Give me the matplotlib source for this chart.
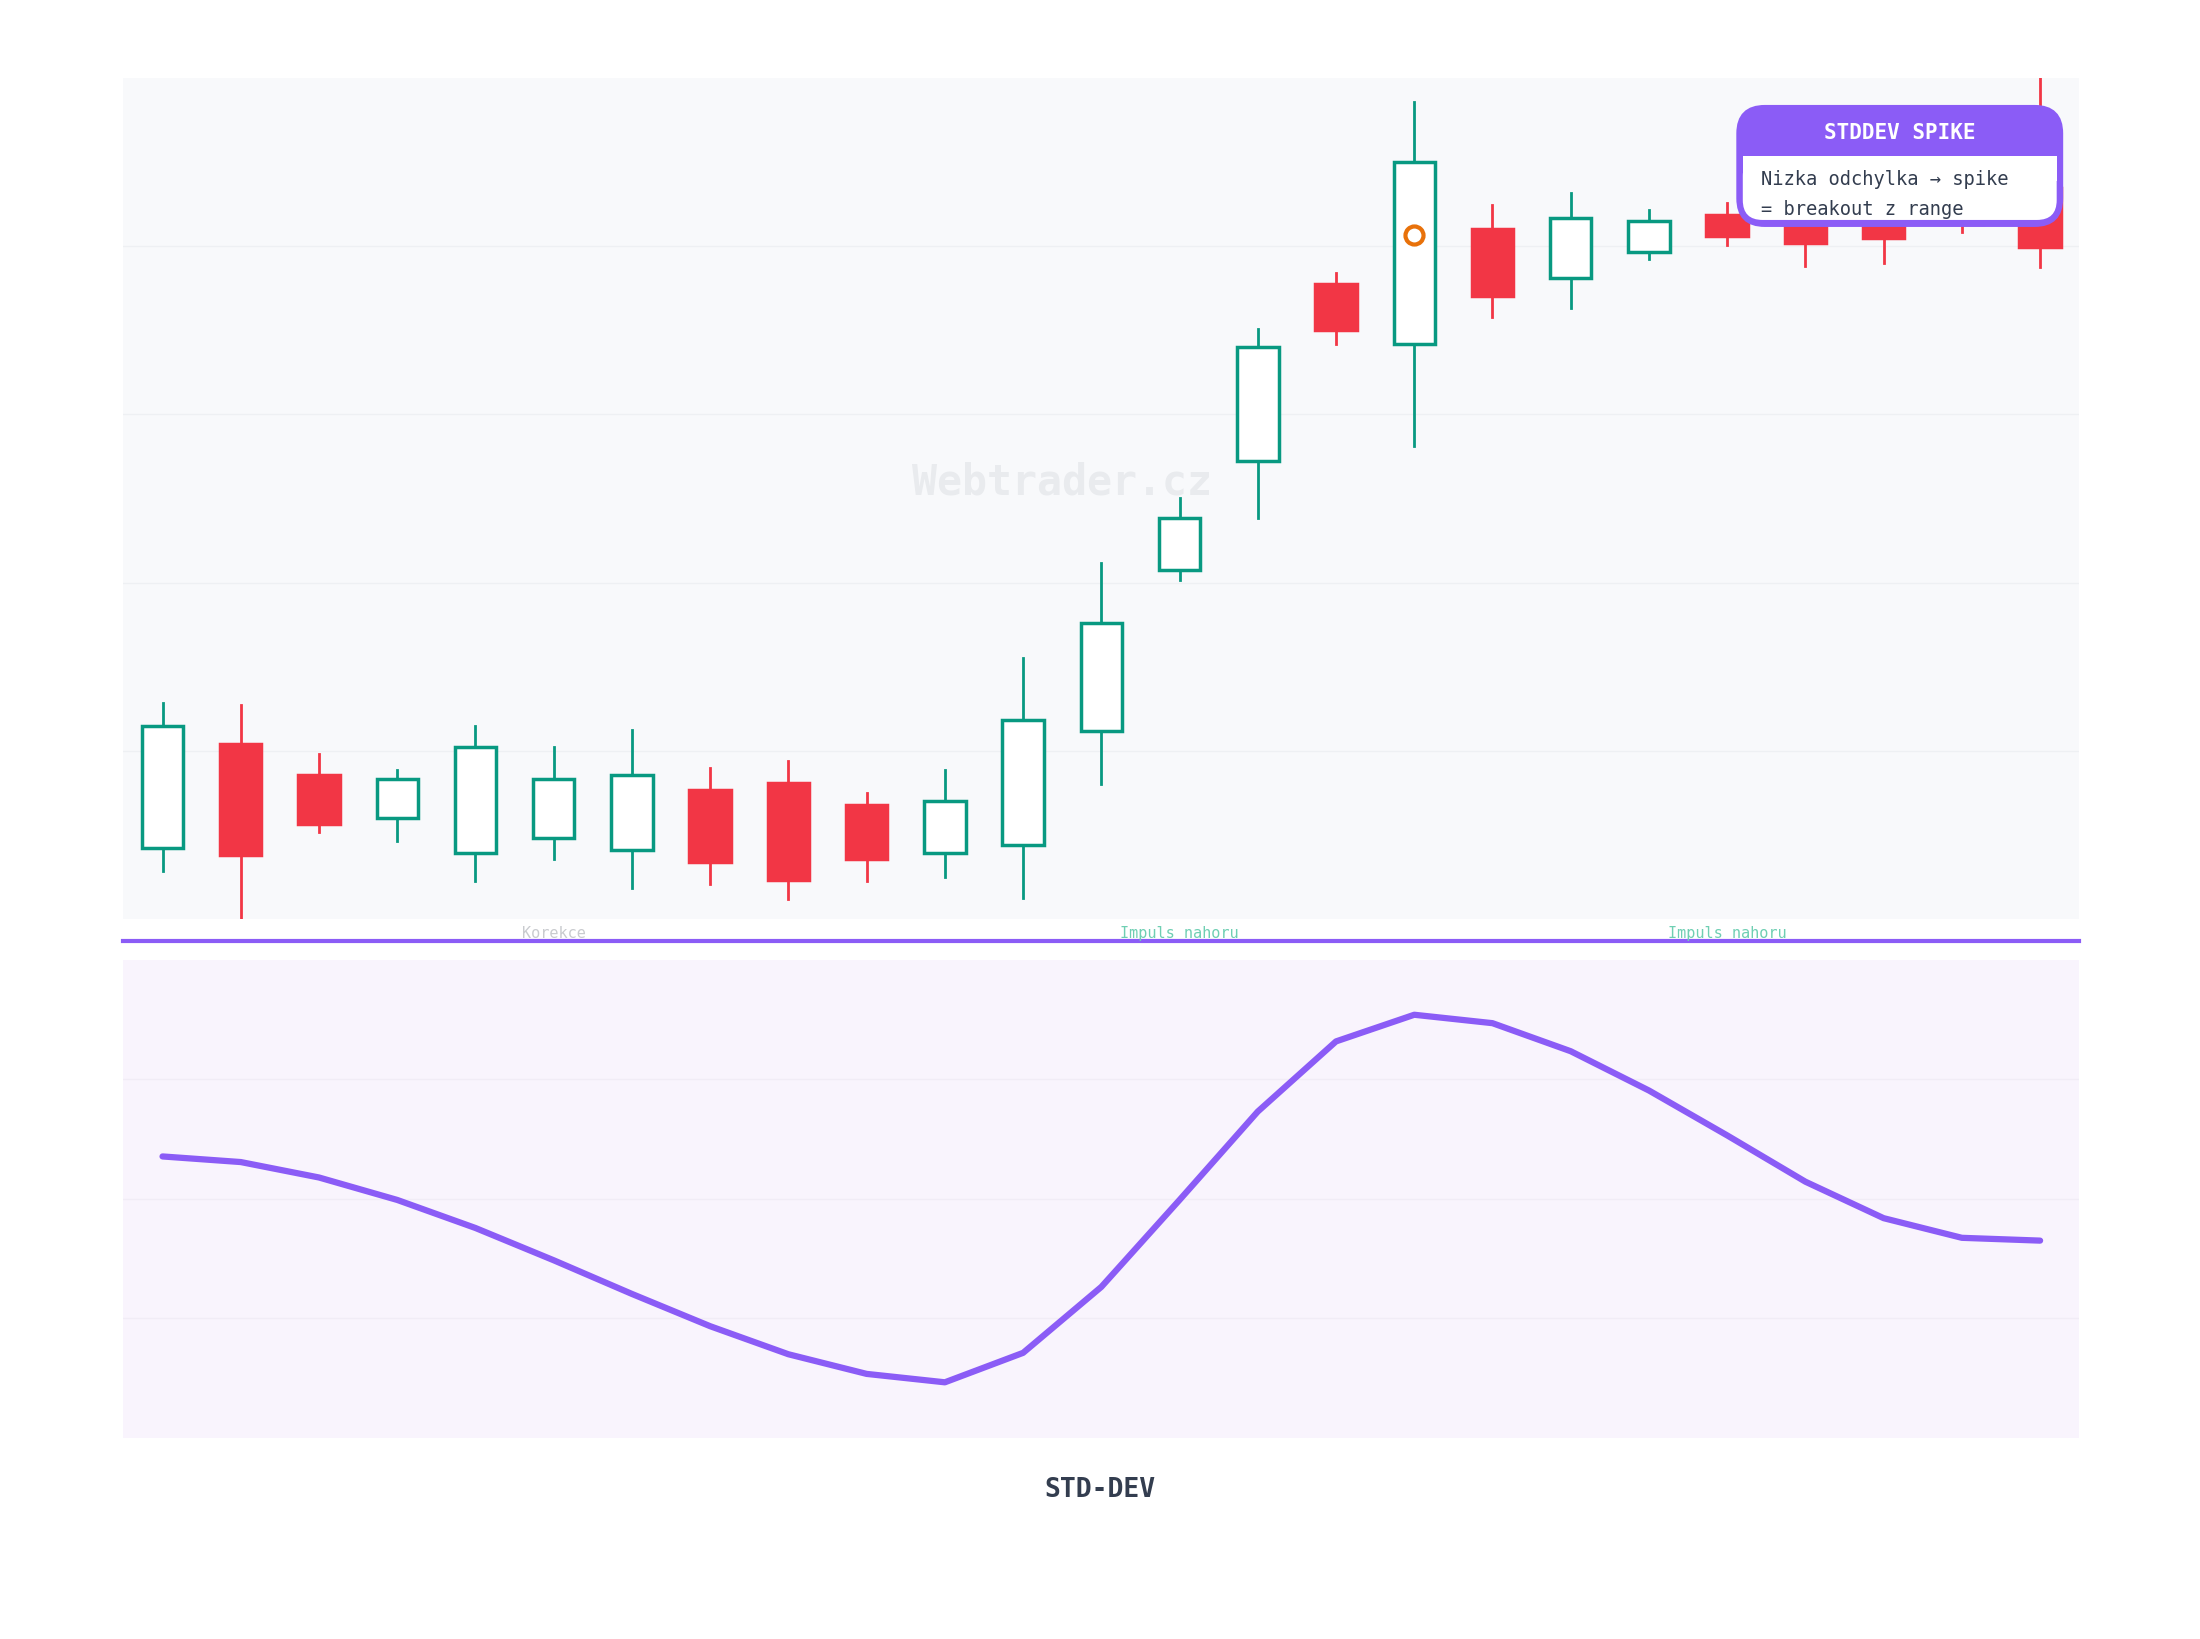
import matplotlib.pyplot as plt
from matplotlib.patches import Rectangle, FancyBboxPatch

# candle data (price units, higher = up)
opens  = [55, 129, 107, 76, 51, 62, 53, 96, 101, 85, 51, 57, 138, 253, 331, 457, 414, 496, 461, 480, 506, 510, 510, 510, 525]
closes = [142, 50, 72, 104, 127, 104, 107, 45, 32, 47, 88, 146, 215, 290, 412, 424, 544, 448, 504, 502, 491, 486, 490, 500, 483]
highs  = [158, 157, 122, 110, 142, 127, 139, 112, 117, 94, 110, 190, 258, 304, 425, 465, 587, 513, 522, 510, 515, 520, 520, 505, 604]
lows   = [38, 4, 66, 60, 31, 47, 26, 29, 18, 31, 34, 19, 100, 246, 290, 414, 341, 433, 440, 475, 485, 470, 472, 494, 469]
spike_idx = 16
spike_val = 492

# std-dev line, one value per candle
stddev = [201, 197, 186, 170, 150, 127, 103, 80, 60, 46, 40, 61, 108, 170, 233, 283, 302, 296, 276, 248, 216, 183, 157, 143, 141]

phase_labels = [(5, 'Korekce', '#c9cbcf'), (13, 'Impuls nahoru', '#6fcfb3'), (20, 'Impuls nahoru', '#6fcfb3')]

GREEN = '#089981'
RED = '#f23645'
PURPLE = '#8b5cf6'
MONO = 'DejaVu Sans Mono'

fig = plt.figure(figsize=(22, 16.4), dpi=100)
ax = fig.add_axes([0.0561, 0.439, 0.889, 0.513])
ax2 = fig.add_axes([0.0561, 0.1223, 0.889, 0.2917])

ax.set_facecolor('#f8f9fb')
ax.set_xlim(-0.5, 24.5)
ax.set_ylim(4, 604)
for g in [124, 244, 364, 484]:
    ax.axhline(g, color='#eef0f3', lw=1, zorder=0)

w = 0.53
for i, (o, c, h, l) in enumerate(zip(opens, closes, highs, lows)):
    up = c >= o
    col = GREEN if up else RED
    ax.plot([i, i], [l, min(o, c)], color=col, lw=2, zorder=2)
    ax.plot([i, i], [max(o, c), h], color=col, lw=2, zorder=2)
    ax.add_patch(Rectangle((i - w / 2, min(o, c)), w, abs(c - o),
                           facecolor='white' if up else col, edgecolor=col,
                           lw=2.5, zorder=3))
ax.plot(spike_idx, spike_val, 'o', ms=13, mfc='none', mec='#e8710a', mew=3, zorder=4)
ax.text(11.5, 316, 'Webtrader.cz', fontsize=30, fontweight='bold', family=MONO,
        color='#e9ebee', ha='center', va='center', zorder=1)
for s in ax.spines.values():
    s.set_visible(False)
ax.set_xticks([])
ax.set_yticks([])

# std-dev panel
ax2.set_facecolor('#f9f4fd')
ax2.set_xlim(-0.5, 24.5)
ax2.set_ylim(0, 341)
for g in [86, 171, 256]:
    ax2.axhline(g, color='#f1ecf6', lw=1, zorder=0)
ax2.plot(range(len(stddev)), stddev, color=PURPLE, lw=4.5, solid_capstyle='round')
for s in ax2.spines.values():
    s.set_visible(False)
ax2.set_xticks([])
ax2.set_yticks([])

# separator and phase labels
fig.add_artist(plt.Line2D([0.0561, 0.945], [0.4255, 0.4255], color=PURPLE, lw=3))
for idx, txt, col in phase_labels:
    x = ax.transData.transform((idx, 0))[0] / fig.bbox.width
    fig.text(x, 0.431, txt, fontsize=11, family=MONO, color=col, ha='center', va='center')

fig.text(0.5, 0.0915, 'STD-DEV', fontsize=19, fontweight='bold', family=MONO,
         color='#333d4f', ha='center', va='center')

# annotation box
bx0, bx1 = 1239 / 1568, 1469 / 1568
by1, by0 = 1 - 77 / 1169, 1 - 161 / 1169
hy = 1 - 112 / 1169
fig.add_artist(FancyBboxPatch((bx0, by0), bx1 - bx0, by1 - by0,
                              boxstyle='round,pad=0,rounding_size=0.012',
                              facecolor=PURPLE, edgecolor=PURPLE, lw=3,
                              transform=fig.transFigure, mutation_aspect=22 / 16.4))
fig.add_artist(FancyBboxPatch((bx0 + 0.002, by0 + 0.003), bx1 - bx0 - 0.004, hy - by0 - 0.003,
                              boxstyle='round,pad=0,rounding_size=0.009',
                              facecolor='white', edgecolor='none',
                              transform=fig.transFigure, mutation_aspect=22 / 16.4))
fig.add_artist(Rectangle((bx0 + 0.002, hy - 0.015), bx1 - bx0 - 0.004, 0.015,
                         facecolor='white', edgecolor='none', transform=fig.transFigure))
fig.text((bx0 + bx1) / 2, 1 - 95 / 1169, 'STDDEV SPIKE', fontsize=15, fontweight='bold',
         family=MONO, color='white', ha='center', va='center')
fig.text(bx0 + 0.0105, 1 - 128 / 1169, 'Nizka odchylka → spike', fontsize=13.5,
         family=MONO, color='#333d4f', ha='left', va='center')
fig.text(bx0 + 0.0105, 1 - 149 / 1169, '= breakout z range', fontsize=13.5,
         family=MONO, color='#333d4f', ha='left', va='center')

fig.savefig('out.png', dpi=100, facecolor='white')
